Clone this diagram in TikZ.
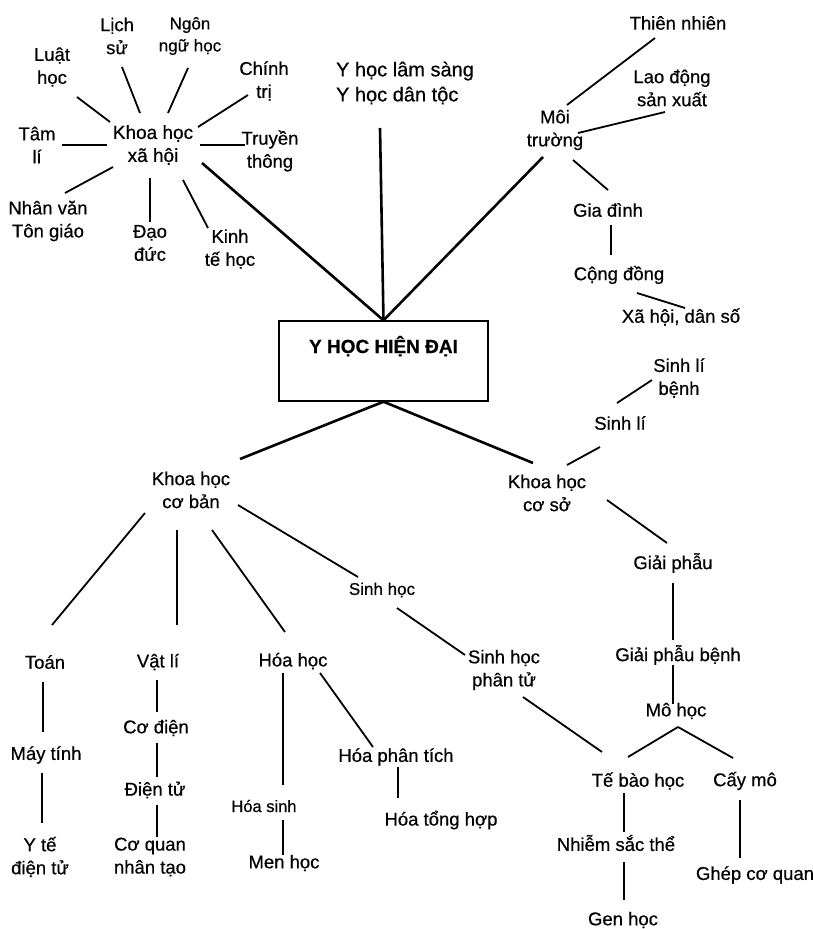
\documentclass[tikz,border=0pt]{standalone}
\usepackage{fontspec}
\setmainfont{Liberation Sans}[FakeBold=0.5]
\usetikzlibrary{calc}
\tikzset{
  lbl/.style={font=\fontsize{18.5}{23}\selectfont, align=center, inner sep=0pt},
  lblsm/.style={lbl, font=\fontsize{17}{22}\selectfont},
  lblxs/.style={lbl, font=\fontsize{16.5}{21}\selectfont},
  edge/.style={line width=1.8pt},
  trunk/.style={line width=2.6pt},
  mainbox/.style={draw, line width=1.4pt, minimum width=209pt, inner xsep=0pt, inner ysep=0pt,
    text height=32pt, text depth=48pt, font=\bfseries\fontsize{19}{23}\selectfont},
}
% connector between two named nodes, each end offset from the node's centre
\newcommand\lnk[5][edge]{\draw[#1] ($(#2)+(#3)$) -- ($(#4)+(#5)$);}
\begin{document}
\begin{tikzpicture}[x=1pt,y=-1pt]
\fill[white] (0,0) rectangle (813,929);
\useasboundingbox (0,0) rectangle (813,929);

% central box
\node[mainbox] (box) at (383.5,361) {Y HỌC HIỆN ĐẠI};

% social sciences cluster
\node[lbl, font=\fontsize{19}{23}\selectfont] (kxh) at (153,145) {Khoa học\\xã hội};
\node[lbl] (ls) at (117,36) {Lịch\\sử};
\node[lblsm] (ngn) at (190,36) {Ngôn\\ngữ học};
\node[lbl] (lh) at (52,67) {Luật\\học};
\node[lbl] (ct) at (264,81) {Chính\\trị};
\node[lbl] (tl) at (37,145) {Tâm\\lí};
\node[lbl] (tt) at (270,151) {Truyền\\thông};
\node[lbl] (nv) at (48,221) {Nhân văn\\Tôn giáo};
\node[lbl] (dd) at (150,243) {Đạo\\đức};
\node[lbl] (kt) at (230,249) {Kinh\\tế học};

% clinical medicine
\node[lbl, align=left, font=\fontsize{20}{25}\selectfont] (yls) at (405,83) {Y học lâm sàng\\Y học dân tộc};

% environment branch
\node[lbl] (mt) at (555,130) {Môi\\trường};
\node[lbl] (tn) at (678,23) {Thiên nhiên};
\node[lbl] (ld) at (672,88) {Lao động\\sản xuất};
\node[lbl] (gd) at (608,210) {Gia đình};
\node[lbl] (cd) at (619,275) {Cộng đồng};
\node[lbl] (xh) at (681,317) {Xã hội, dân số};

% basic medical sciences
\node[lbl] (kcs) at (547,493) {Khoa học\\cơ sở};
\node[lbl] (sl) at (620,423) {Sinh lí};
\node[lbl] (sl2) at (679,378) {Sinh lí\\bệnh};
\node[lbl] (gp) at (673,563) {Giải phẫu};
\node[lbl] (gpb) at (678,655) {Giải phẫu bệnh};
\node[lbl] (mo) at (676,711) {Mô học};
\node[lbl] (tb) at (638,781) {Tế bào học};
\node[lbl] (cm) at (745,781) {Cấy mô};
\node[lbl] (nst) at (616,843) {Nhiễm sắc thể};
\node[lbl] (gen) at (623,920) {Gen học};
\node[lbl] (gcq) at (755,875) {Ghép cơ quan};

% fundamental sciences
\node[lbl] (kcb) at (191,490) {Khoa học\\cơ bản};
\node[lbl] (toan) at (45,662) {Toán};
\node[lbl] (mtinh) at (46,755) {Máy tính};
\node[lbl] (ytdt) at (40,857) {Y tế\\điện tử};
\node[lbl] (vl) at (158,662) {Vật lí};
\node[lbl] (cdien) at (156,728) {Cơ điện};
\node[lbl] (dt) at (155,790) {Điện tử};
\node[lbl] (cq) at (150,857) {Cơ quan\\nhân tạo};
\node[lbl] (hh) at (293,661) {Hóa học};
\node[lblxs] (hs) at (264,806) {Hóa sinh};
\node[lbl] (mh) at (284,863) {Men học};
\node[lbl] (hpt) at (396,757) {Hóa phân tích};
\node[lbl] (hth) at (441,820) {Hóa tổng hợp};
\node[lblsm] (sh) at (382,590) {Sinh học};
\node[lbl] (shpt) at (504,670) {Sinh học\\phân tử};

% trunks into and out of the central box
\draw[trunk] ($(kxh)+(49,18)$) -- (box.north);
\draw[trunk] ($(yls)+(-25,45)$) -- (box.north);
\draw[trunk] ($(mt)+(-12,27)$) -- (box.north);
\draw[trunk] (box.south) -- ($(kcb)+(49,-31)$);
\draw[trunk] (box.south) -- ($(kcs)+(-14,-30)$);

% social sciences
\lnk{kxh}{-43,-23}{lh}{25,30}
\lnk{kxh}{-13,-32}{ls}{5,31}
\lnk{kxh}{15,-32}{ngn}{-2,32}
\lnk{kxh}{45,-18}{ct}{-16,14}
\lnk{kxh}{47,0}{tt}{-25,-6}
\lnk{kxh}{-46,0}{tl}{25,0}
\lnk{kxh}{-40,22}{nv}{17,-28}
\lnk{kxh}{-3,33}{dd}{0,-21}
\lnk{kxh}{30,35}{kt}{-22,-21}

% environment
\lnk{mt}{12,-25}{tn}{-23,15}
\lnk{mt}{23,3}{ld}{-7,24}
\lnk{mt}{18,30}{gd}{0,-20}
\lnk{gd}{3,15}{cd}{-8,-20}
\lnk{cd}{18,18}{xh}{4,-9}

% basic medical sciences
\lnk{kcs}{20,-28}{sl}{-20,24}
\lnk{sl}{-3,-20}{sl2}{-27,2}
\lnk{kcs}{60,7}{gp}{-6,-20}
\lnk{gp}{0,20}{gpb}{-5,-15}
\lnk{gpb}{-5,10}{mo}{-3,-7}
\lnk{mo}{2,16}{tb}{-10,-24}
\lnk{mo}{2,16}{cm}{-12,-23}
\lnk{tb}{-14,12}{nst}{8,-11}
\lnk{nst}{8,19}{gen}{1,-20}
\lnk{cm}{-5,19}{gcq}{-15,-17}
\lnk{shpt}{19,27}{tb}{-36,-29}

% fundamental sciences
\lnk{kcb}{47,15}{sh}{-24,-13}
\lnk{sh}{15,18}{shpt}{-39,-15}
\lnk{kcb}{-46,23}{toan}{7,-37}
\lnk{kcb}{-14,40}{vl}{19,-37}
\lnk{kcb}{21,40}{hh}{-8,-29}
\lnk{toan}{-2,20}{mtinh}{-3,-23}
\lnk{mtinh}{-4,18}{ytdt}{2,-34}
\lnk{vl}{-1,18}{cdien}{1,-16}
\lnk{cdien}{1,15}{dt}{2,-13}
\lnk{dt}{2,15}{cq}{7,-20}
\lnk{hh}{-10,12}{hs}{19,-21}
\lnk{hs}{19,14}{mh}{-1,-8}
\lnk{hh}{27,12}{hpt}{-23,-10}
\lnk{hpt}{2,10}{hth}{-43,-22}
\end{tikzpicture}
\end{document}
